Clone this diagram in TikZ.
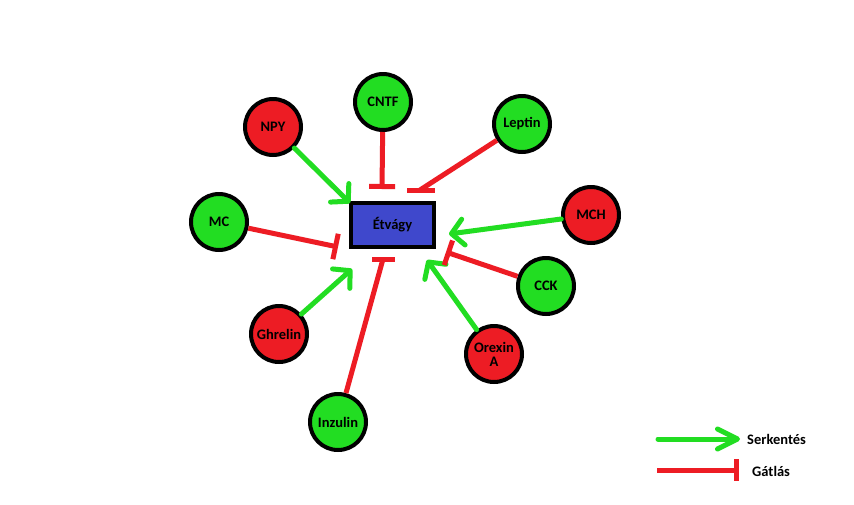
\documentclass[tikz,border=0pt]{standalone}
\usepackage{fontspec}
\setmainfont{Carlito}
\usetikzlibrary{arrows.meta}
\definecolor{pred}{RGB}{237,28,36}
\definecolor{pgreen}{RGB}{34,221,34}
\definecolor{pblue}{RGB}{63,72,204}
\begin{document}
\begin{tikzpicture}[x=1pt,y=-1pt,
  txt/.style={font=\bfseries\fontsize{14.5}{14}\selectfont,text=black},
  circ/.style={circle,draw=black,line width=4pt,minimum size=56pt,inner sep=0pt,txt,align=center},
  redc/.style={circ,fill=pred},
  greenc/.style={circ,fill=pgreen},
  act/.style={pgreen,line width=5pt,line cap=round,-{Straight Barb[length=12pt,width=26pt,round]}},
  inh/.style={pred,line width=5pt,-{Bar[width=26pt]}},
  inhline/.style={pred,line width=5pt},
  barline/.style={pred,line width=5pt},
]
\useasboundingbox[fill=white] (0,0) rectangle (854,504);

% central box
\node[draw=black,fill=pblue,line width=4pt,minimum width=83pt,minimum height=44pt,inner sep=0pt,txt] (etv) at (392.5,225) {Étvágy};

% factors
\node[redc]   (npy) at (273,127) {NPY};
\node[greenc] (cntf) at (383,102) {CNTF};
\node[greenc] (lep) at (522,124) {Leptin};
\node[greenc] (mc) at (219,222) {MC};
\node[redc]   (mch) at (591,215) {MCH};
\node[greenc] (cck) at (546,286) {CCK};
\node[redc]   (ghr) at (279,334) {Ghrelin};
\node[redc]   (orx) at (494,354) {Orexin\\A};
\node[greenc] (inz) at (338,422) {Inzulin};

% end points near the box
\coordinate (npyE) at (350,203);
\coordinate (cntfE) at (382,189);
\coordinate (lepE) at (420,190);
\coordinate (mcE) at (338,247);
\coordinate (mchE) at (449,234);
\coordinate (cckE) at (446,252);
\coordinate (ghrE) at (352,269);
\coordinate (orxE) at (427,260);
\coordinate (inzE) at (383,259);

% stimulating
\draw[act] (npy) -- (npyE);
\draw[act] (mch) -- (mchE);
\draw[act] (ghr) -- (ghrE);
\draw[act] (orx) -- (orxE);

% inhibiting
\draw[inh] (cntf) -- (cntfE);
\draw[inh] (mc) -- (mcE);
\draw[inh] (cck) -- (cckE);
\draw[inhline] (lep) -- (lepE);
\draw[barline] ([xshift=-13pt]lepE) -- ([xshift=15pt]lepE);
\draw[inhline] (inz) -- (inzE);
\draw[barline] ([xshift=-11pt]inzE) -- ([xshift=12pt]inzE);

% legend
\coordinate (lg1s) at (658,439);
\coordinate (lg1e) at (740,439);
\coordinate (lg2s) at (657,470);
\coordinate (lg2e) at (739,470);
\draw[act,-{Straight Barb[length=20pt,width=20pt,round]}] (lg1s) -- (lg1e);
\draw[inh,-{Bar[width=22pt]}] (lg2s) -- (lg2e);
\node[txt,anchor=west,inner sep=0pt] (serk) at (747,439) {Serkentés};
\node[txt,anchor=west,inner sep=0pt] (gatl) at (752,471) {Gátlás};
\end{tikzpicture}
\end{document}
